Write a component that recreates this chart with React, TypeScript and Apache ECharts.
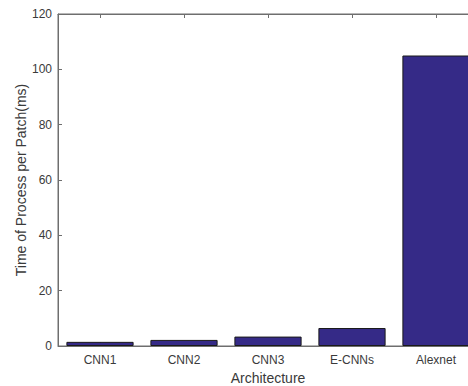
import React, { useEffect, useRef } from "react";
import * as echarts from "echarts";

const categories = ["CNN1", "CNN2", "CNN3", "E-CNNs", "Alexnet"];
const timeValues = [1.5, 2.2, 3.4, 6.5, 105];
const yTicks = { min: 0, max: 120, interval: 20 };

export default function App() {
  const ref = useRef<HTMLDivElement>(null);
  useEffect(() => {
    if (!ref.current) return;
    const chart = echarts.init(ref.current, null, { renderer: "svg" });
    const axisColor = "#6e6e6e";
    const textColor = "#3a3a3a";
    const font = "Liberation Sans, Arial, sans-serif";
    chart.setOption({
      animation: false,
      backgroundColor: "#ffffff",
      grid: {
        left: 58,
        top: 14,
        bottom: 40,
        width: 420,
        outerBoundsMode: "none",
        containLabel: false,
        show: true,
        borderColor: axisColor,
        borderWidth: 1,
        backgroundColor: "transparent",
      },
      xAxis: [
        {
          type: "category",
          data: categories,
          position: "bottom",
          name: "Architecture",
          nameLocation: "middle",
          nameGap: 25,
          nameMoveOverlap: false,
          nameTextStyle: { fontSize: 14, color: textColor, fontFamily: font },
          axisLine: { show: true, lineStyle: { color: axisColor, width: 1 } },
          axisTick: { show: true, inside: true, alignWithLabel: true, length: 4, lineStyle: { color: axisColor } },
          axisLabel: { fontSize: 12, color: textColor, fontFamily: font, margin: 8 },
          splitLine: { show: false },
        },
        {
          type: "category",
          data: categories,
          position: "top",
          axisLine: { show: true, lineStyle: { color: axisColor, width: 1 } },
          axisTick: { show: true, inside: true, alignWithLabel: true, length: 4, lineStyle: { color: axisColor } },
          axisLabel: { show: false },
          splitLine: { show: false },
        },
      ],
      yAxis: {
        type: "value",
        min: yTicks.min,
        max: yTicks.max,
        interval: yTicks.interval,
        name: "Time of Process per Patch(ms)",
        nameLocation: "middle",
        nameGap: 30,
        nameMoveOverlap: false,
        nameTextStyle: { fontSize: 14, color: textColor, fontFamily: font },
        axisLine: { show: true, lineStyle: { color: axisColor, width: 1 } },
        axisTick: { show: true, inside: true, length: 4, lineStyle: { color: axisColor } },
        axisLabel: { fontSize: 12, color: textColor, fontFamily: font, margin: 6 },
        splitLine: { show: false },
      },
      series: [
        {
          type: "bar",
          data: timeValues,
          xAxisIndex: 0,
          barWidth: "80%",
          itemStyle: { color: "#352a87", borderColor: "#1a1a1a", borderWidth: 1 },
        },
      ],
    });
    return () => chart.dispose();
  }, []);
  return (
    <div
      ref={ref}
      style={{ position: "fixed", left: 0, top: 0, width: 468, height: 386 }}
    />
  );
}
